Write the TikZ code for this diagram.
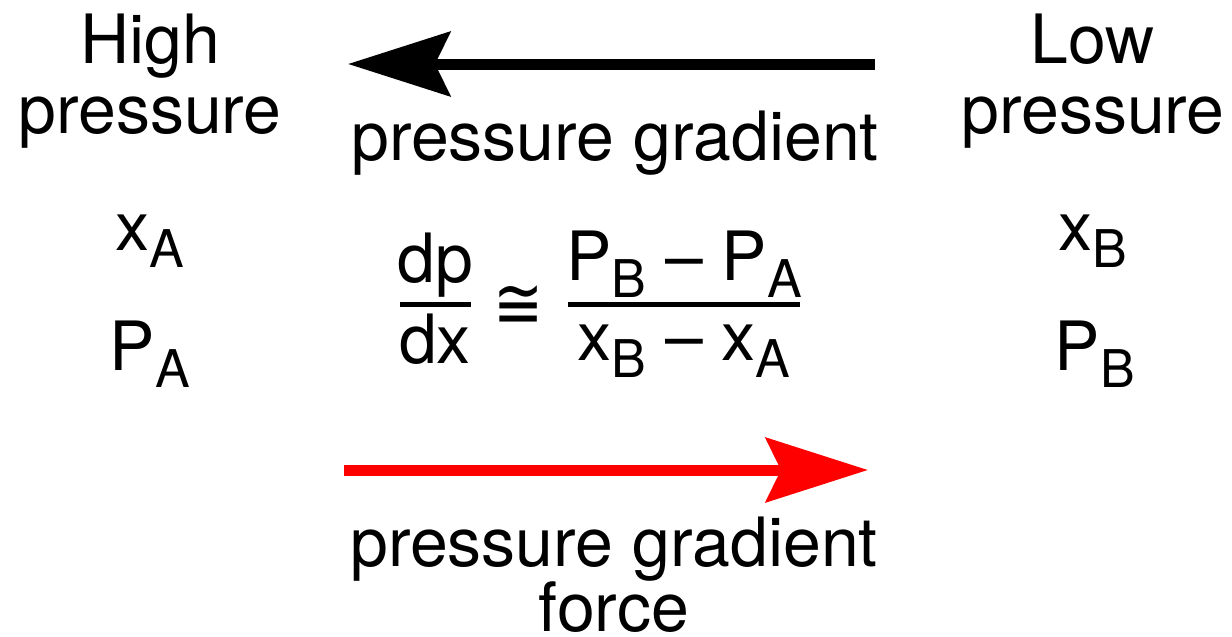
\documentclass[tikz,border=0pt]{standalone}
\usepackage{fontspec}
\setmainfont{TeX Gyre Heros}
\newfontfamily\symfont{DejaVu Sans}
\usepackage{graphicx}
\usepackage{xcolor}
\usepackage{tikz}
\usetikzlibrary{arrows.meta}

\newcommand{\sbs}[1]{\raisebox{-8.5pt}{\fontsize{26}{26}\selectfont #1}}

\begin{document}
\begin{tikzpicture}[x=0.5pt,y=-0.5pt,line join=round,
    lbl/.style={inner sep=0pt,anchor=base,align=center,font=\fontsize{34}{35}\selectfont},
    gradarrow/.style={line width=5.5pt,-{Stealth[length=51pt,width=32pt,inset=7.5pt]}},
    fracbar/.style={line width=2.5pt}]
  \useasboundingbox (0,0) rectangle (1232,637);
  \coordinate (GR) at (875,64);
  \coordinate (GL) at (348,64);
  \coordinate (FL) at (344,470);
  \coordinate (FR) at (868,470);
  % side labels
  \node[lbl] (hp) at (150,133) {High\\pressure};
  \node[lbl] (lp) at (1093,133) {Low\\pressure};
  \node[lbl] (xa) at (150,250) {x\sbs{A}};
  \node[lbl] (pa) at (150,370) {P\sbs{A}};
  \node[lbl] (xb) at (1093,250) {x\sbs{B}};
  \node[lbl] (pb) at (1095,370) {P\sbs{B}};
  % gradient arrow
  \draw[gradarrow] (GR) -- (GL);
  \node[lbl] (grad) at (615,160) {pressure gradient};
  % finite difference
  \node[lbl] (dp) at (435,282) {dp};
  \node[lbl] (dx) at (435,363) {dx};
  \draw[fracbar] (400,304.5) -- (471,304.5);
  \node[lbl] (approx) at (519,328) {\scalebox{0.88}[1.06]{\symfont ≅}};
  \node[lbl] (num) at (684,280) {P\sbs{B} -- P\sbs{A}};
  \node[lbl] (den) at (684,360) {x\sbs{B} -- x\sbs{A}};
  \draw[fracbar] (568,304.5) -- (800,304.5);
  % force arrow
  \draw[gradarrow,red] (FL) -- (FR);
  \node[lbl,font=\fontsize{34}{32.5}\selectfont] (pgf) at (614,631) {pressure gradient\\force};
\end{tikzpicture}
\end{document}
